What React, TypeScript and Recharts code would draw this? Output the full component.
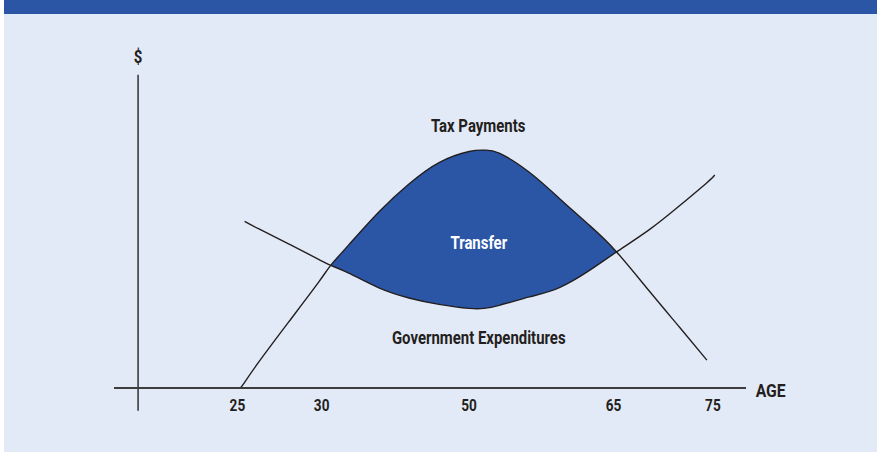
import {
  Area,
  ComposedChart,
  Line,
  ReferenceDot,
  ReferenceLine,
  XAxis,
  YAxis,
} from 'recharts'

// horizontal position along the stylised age axis (schematic units)
const xs = [17, 20, 25, 30, 32, 35, 40, 45, 50, 55, 57.5, 60, 65, 70, 75, 79.5, 85, 90, 94.5, 95.8]
const taxPayments = [0, 7.6, 19.6, 31.5, 36.5, 42.6, 52.4, 60.7, 67.1, 70.4, 70.8, 69.9, 64.2, 56.4, 48.4, 40.5, 28.7, 18.0, 8.3, null]
const govExpenditures = [null, 47.4, 42.9, 38.3, 36.5, 34.2, 29.8, 26.8, 24.9, 23.7, 23.7, 24.6, 27.1, 29.9, 35.0, 40.5, 47.2, 54.3, 61.1, 63.4]
// the expenditure line starts a little to the right of the tax line
const expStart = { x: 17.7, exp: 49.6, tax: 1.7 }

const tickSpots = [16.5, 30.5, 55, 79, 95.5]
const ageLabels = ['25', '30', '50', '65', '75']

const crossStart = 32
const crossEnd = 79.5

const data = [
  { x: xs[0], tax: taxPayments[0], exp: null, transfer: null },
  { x: expStart.x, tax: expStart.tax, exp: expStart.exp, transfer: null },
  ...xs.slice(1).map((x, j) => {
    const i = j + 1
    const tax = taxPayments[i]
    const exp = govExpenditures[i]
    const inside = x >= crossStart && x <= crossEnd && tax != null && exp != null
    return { x, tax, exp, transfer: inside ? [exp, tax] : null }
  }),
]

const font = 'Roboto, "DejaVu Sans Condensed", sans-serif'
const ink = '#231f20'

function CondensedText({ x, y, text, fill = ink, size = 18, squeeze = 0.83 }: { x: number; y: number; text: string; fill?: string; size?: number; squeeze?: number }) {
  return (
    <text
      transform={`translate(${x},${y}) scale(${squeeze},1)`}
      textAnchor="middle"
      dominantBaseline="central"
      fill={fill}
      fontSize={size}
      fontWeight={700}
      fontFamily={font}
    >
      {text}
    </text>
  )
}

const textDot = (text: string, fill?: string, size?: number) => (p: any) => (
  <CondensedText x={p.cx} y={p.cy} text={text} fill={fill} size={size} />
)

const AgeTick = (p: any) => (
  <CondensedText x={p.x} y={p.y + 6} text={ageLabels[tickSpots.indexOf(p.payload.value)] ?? ''} size={17} squeeze={0.8} />
)

export default function App() {
  return (
    <div style={{ position: 'absolute', left: 0, top: 0, width: 877, height: 453, background: '#fff' }}>
      <div style={{ position: 'absolute', left: 4, top: 0, width: 873, height: 452, background: '#e3eaf7' }} />
      <div style={{ position: 'absolute', left: 4, top: 0, width: 873, height: 14, background: '#2b56a6' }} />
      <div style={{ position: 'absolute', left: 0, top: 0 }}>
        <ComposedChart
          width={877}
          height={453}
          data={data}
          margin={{ top: 52, right: 131, left: 114, bottom: 35 }}
        >
          <XAxis
            dataKey="x"
            type="number"
            domain={[-4, 101]}
            allowDataOverflow
            ticks={tickSpots}
            height={30}
            tickSize={0}
            tickMargin={11}
            tickLine={false}
            axisLine={{ stroke: '#3d3d3d', strokeWidth: 1.8 }}
            tick={AgeTick}
          />
          <YAxis type="number" domain={[0, 100]} hide allowDataOverflow />
          <ReferenceLine
            segment={[{ x: 0, y: -6.8 }, { x: 0, y: 93.2 }]}
            ifOverflow="visible"
            stroke="#2f2f2f"
            strokeWidth={1.5}
          />
          <Area
            dataKey="transfer"
            type="natural"
            fill="#2b56a6"
            fillOpacity={1}
            stroke="none"
            isAnimationActive={false}
          />
          <Line
            dataKey="tax"
            type="natural"
            stroke={ink}
            strokeWidth={1.4}
            dot={false}
            isAnimationActive={false}
          />
          <Line
            dataKey="exp"
            type="natural"
            stroke={ink}
            strokeWidth={1.4}
            dot={false}
            isAnimationActive={false}
          />
          <ReferenceDot x={0} y={98.5} r={0} shape={textDot('$')} />
          <ReferenceDot x={56.5} y={78} r={0} shape={textDot('Tax Payments')} />
          <ReferenceDot x={56.6} y={43.2} r={0} shape={textDot('Transfer', '#ffffff')} />
          <ReferenceDot x={56.6} y={14.9} r={0} shape={textDot('Government Expenditures')} />
          <ReferenceDot x={105.1} y={-0.6} r={0} ifOverflow="visible" shape={textDot('AGE', ink, 19)} />
        </ComposedChart>
      </div>
    </div>
  )
}
